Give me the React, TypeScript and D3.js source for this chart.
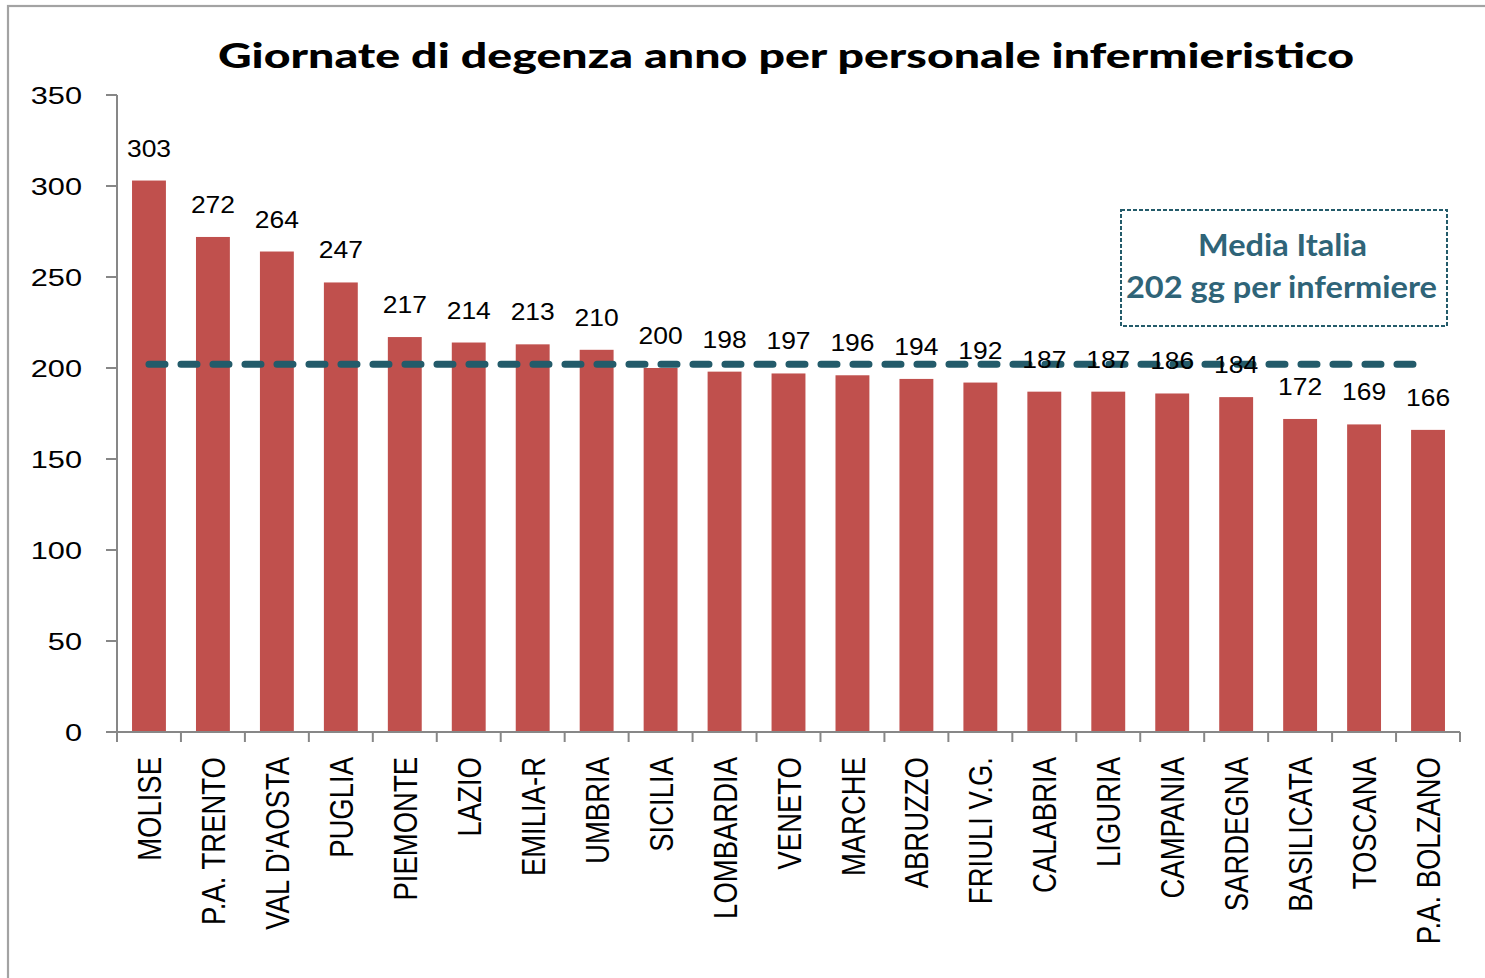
import React from "react";
import * as d3 from "d3";

const categories = [
  "MOLISE", "P.A. TRENTO", "VAL D'AOSTA", "PUGLIA", "PIEMONTE", "LAZIO", "EMILIA-R",
  "UMBRIA", "SICILIA", "LOMBARDIA", "VENETO", "MARCHE", "ABRUZZO", "FRIULI V.G.",
  "CALABRIA", "LIGURIA", "CAMPANIA", "SARDEGNA", "BASILICATA", "TOSCANA", "P.A. BOLZANO",
];
const values = [303, 272, 264, 247, 217, 214, 213, 210, 200, 198, 197, 196, 194, 192, 187, 187, 186, 184, 172, 169, 166];
const yTicks = [0, 50, 100, 150, 200, 250, 300, 350];
const mediaItalia = 202;
const title = "Giornate di degenza anno per personale infermieristico";
const legendLines = ["Media Italia", "202 gg per infermiere"];

const W = 1485;
const H = 978;
const left = 117;
const right = 1460;
const top = 95;
const bottom = 732;

const BAR = "#c0504d";
const AXIS = "#878787";
const TEAL = "#235b6a";
const TEAL_TEXT = "#2f6478";

export default function App() {
  const x = d3
    .scaleBand<string>()
    .domain(categories)
    .range([left, right])
    .paddingInner(0.47)
    .paddingOuter(0.235);
  const y = d3.scaleLinear().domain([0, 350]).range([bottom, top]);
  const step = x.step();
  const bw = x.bandwidth();
  const cx = (c: string) => (x(c) as number) + bw / 2;

  const firstC = cx(categories[0]);
  const lastC = cx(categories[categories.length - 1]);

  return (
    <svg
      width={W}
      height={H}
      style={{ position: "absolute", left: 0, top: 0, background: "#fff" }}
    >
      <rect x={0} y={0} width={W} height={H} fill="#fff" />
      {/* outer chart border */}
      <rect x={8} y={6} width={W + 20} height={H + 20} fill="none" stroke="#a3a3a3" strokeWidth={2.2} />

      {/* title */}
      <text
        x={218}
        y={68}
        textLength={1136}
        lengthAdjust="spacingAndGlyphs"
        fontFamily="Lato, 'Open Sans', sans-serif"
        fontWeight={900}
        fontSize={35}
        fill="#000"
      >
        {title}
      </text>

      {/* bars */}
      {categories.map((c, i) => (
        <rect key={c} x={x(c)} y={y(values[i])} width={bw} height={bottom - y(values[i])} fill={BAR} />
      ))}

      {/* y axis */}
      <line x1={left} x2={left} y1={top} y2={bottom} stroke={AXIS} strokeWidth={2} />
      {yTicks.map((t) => (
        <g key={t}>
          <line x1={left - 11} x2={left} y1={y(t)} y2={y(t)} stroke={AXIS} strokeWidth={2} />
          <text
            transform={`translate(82,${y(t)}) scale(1.28,1)`}
            textAnchor="end"
            dy="0.36em"
            fontFamily="'Liberation Sans', Arial, sans-serif"
            fontSize={24}
            fill="#000"
          >
            {t}
          </text>
        </g>
      ))}

      {/* x axis */}
      <line x1={left} x2={right} y1={bottom} y2={bottom} stroke={AXIS} strokeWidth={2} />
      {d3.range(categories.length + 1).map((k) => (
        <line
          key={k}
          x1={left + step * k}
          x2={left + step * k}
          y1={bottom}
          y2={bottom + 10}
          stroke={AXIS}
          strokeWidth={2}
        />
      ))}
      {categories.map((c) => (
        <text
          key={c}
          transform={`translate(${cx(c)},757) scale(1.22,1) rotate(-90)`}
          textAnchor="end"
          dy="0.36em"
          fontFamily="'Liberation Sans', Arial, sans-serif"
          fontSize={27.5}
          fill="#000"
        >
          {c}
        </text>
      ))}

      {/* average line */}
      <line
        x1={firstC}
        x2={lastC}
        y1={y(mediaItalia)}
        y2={y(mediaItalia)}
        stroke={TEAL}
        strokeWidth={7}
        strokeDasharray="16 16"
        strokeLinecap="round"
      />

      {/* value labels */}
      {categories.map((c, i) => (
        <text
          key={c}
          transform={`translate(${cx(c)},${y(values[i]) - 24}) scale(1.15,1)`}
          textAnchor="middle"
          fontFamily="'Liberation Sans', Arial, sans-serif"
          fontSize={23}
          fill="#000"
        >
          {values[i]}
        </text>
      ))}

      {/* legend box */}
      <rect
        x={1121}
        y={210}
        width={326}
        height={116}
        fill="#fff"
        stroke={TEAL}
        strokeWidth={2}
        strokeDasharray="4 2"
      />
      <text
        x={1198}
        y={256}
        textLength={169}
        lengthAdjust="spacingAndGlyphs"
        fontFamily="Lato, 'Open Sans', sans-serif"
        fontWeight={700}
        fontSize={30}
        fill={TEAL_TEXT}
      >
        {legendLines[0]}
      </text>
      <text
        x={1126}
        y={298}
        textLength={311}
        lengthAdjust="spacingAndGlyphs"
        fontFamily="Lato, 'Open Sans', sans-serif"
        fontWeight={700}
        fontSize={30}
        fill={TEAL_TEXT}
      >
        {legendLines[1]}
      </text>
    </svg>
  );
}
